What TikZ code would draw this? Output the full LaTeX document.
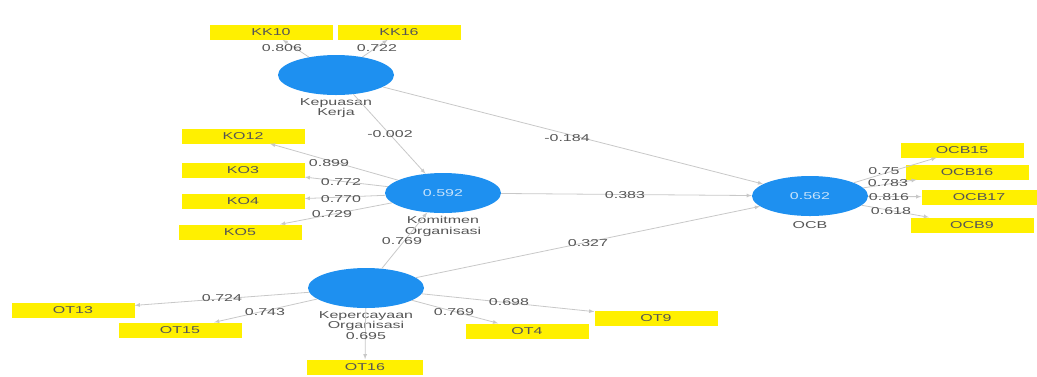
\documentclass[tikz,border=0pt]{standalone}
\usepackage{fontspec}
\newfontfamily\plsfont[FakeStretch=1.6]{Liberation Sans}
\usetikzlibrary{positioning,shapes}
\definecolor{plsblue}{RGB}{30,144,240}
\definecolor{plsyellow}{RGB}{255,240,0}
\definecolor{plsline}{RGB}{200,200,200}
\definecolor{plstext}{RGB}{85,85,85}
\tikzset{
  latent/.style={ellipse, fill=plsblue, minimum width=116pt, minimum height=40pt,
    inner sep=0pt, text=white!75!plsblue, font=\plsfont\fontsize{10}{11}\selectfont},
  indicator/.style={rectangle, fill=plsyellow, minimum width=123pt, minimum height=15pt,
    inner sep=0pt, text=plstext, font=\plsfont\fontsize{10}{11}\selectfont},
  lvname/.style={align=center, inner sep=0pt, text=plstext,
    font=\plsfont\fontsize{10}{10.5}\selectfont},
  coef/.style={inner sep=0pt, text=plstext, font=\plsfont\fontsize{10}{11}\selectfont},
  link/.style={->, draw=plsline, line width=0.8pt}
}
\begin{document}
\begin{tikzpicture}[>=latex, x=1pt, y=-1pt]
            \useasboundingbox (0,0) rectangle (1037,376);

            % latent variables
            \node[latent] (kk) at (336,75) {};
            \node[latent] (ko) at (443,193) {0.592};
            \node[latent] (kp) at (366,288) {};
            \node[latent] (ocb) at (810,196) {0.562};

            \node[lvname, below=3pt of kk] (kkname) {Kepuasan\\Kerja};
            \node[lvname, below=3pt of ko] (koname) {Komitmen\\Organisasi};
            \node[lvname, below=3pt of kp] (kpname) {Kepercayaan\\Organisasi};
            \node[lvname, below=5pt of ocb] (ocbname) {OCB};

            % indicators
            \node[indicator] (kk10) at (271,32) {KK10};
            \node[indicator] (kk16) at (399,32) {KK16};
            \node[indicator] (ko12) at (243,136) {KO12};
            \node[indicator] (ko3) at (243,170) {KO3};
            \node[indicator] (ko4) at (243,201) {KO4};
            \node[indicator] (ko5) at (240,232) {KO5};
            \node[indicator] (ocb15) at (962,150) {OCB15};
            \node[indicator] (ocb16) at (967,172) {OCB16};
            \node[indicator, minimum width=115pt] (ocb17) at (979,197) {OCB17};
            \node[indicator] (ocb9) at (972,225) {OCB9};
            \node[indicator] (ot13) at (73,310) {OT13};
            \node[indicator] (ot15) at (180,330) {OT15};
            \node[indicator, minimum width=116pt] (ot16) at (365,367) {OT16};
            \node[indicator] (ot4) at (527,331) {OT4};
            \node[indicator] (ot9) at (656,318) {OT9};

            % outer loadings
            \foreach \lv/\ind in {kk/kk10,kk/kk16,ko/ko12,ko/ko3,ko/ko4,ko/ko5,
                ocb/ocb15,ocb/ocb16,ocb/ocb17,ocb/ocb9,kp/ot13,kp/ot15,kp/ot16,kp/ot4,kp/ot9}
              \draw[link] (\lv) -- (\ind);

            % structural paths
            \draw[link] (kk) -- (ko);
            \draw[link] (kk) -- (ocb);
            \draw[link] (ko) -- (ocb);
            \draw[link] (kp) -- (ko);
            \draw[link] (kp) -- (ocb);

            \node[coef] (c1) at (282,48) {0.806};
            \node[coef] (c2) at (377,48) {0.722};
            \node[coef] (c3) at (329,163) {0.899};
            \node[coef] (c4) at (341,182) {0.772};
            \node[coef] (c5) at (341,199) {0.770};
            \node[coef] (c6) at (332,214) {0.729};
            \node[coef] (c7) at (884,171) {0.75};
            \node[coef] (c8) at (888,183) {0.783};
            \node[coef] (c9) at (889,197) {0.816};
            \node[coef] (c10) at (891,211) {0.618};
            \node[coef] (c11) at (222,298) {0.724};
            \node[coef] (c12) at (265,312) {0.743};
            \node[coef] (c13) at (366,336) {0.695};
            \node[coef] (c14) at (454,312) {0.769};
            \node[coef] (c15) at (509,302) {0.698};

            \node[coef] (p1) at (390,134) {-0.002};
            \node[coef] (p2) at (567,138) {-0.184};
            \node[coef] (p3) at (625,195) {0.383};
            \node[coef] (p4) at (588,243) {0.327};
            \node[coef] (p5) at (402,241) {0.769};
            \end{tikzpicture}
\end{document}
